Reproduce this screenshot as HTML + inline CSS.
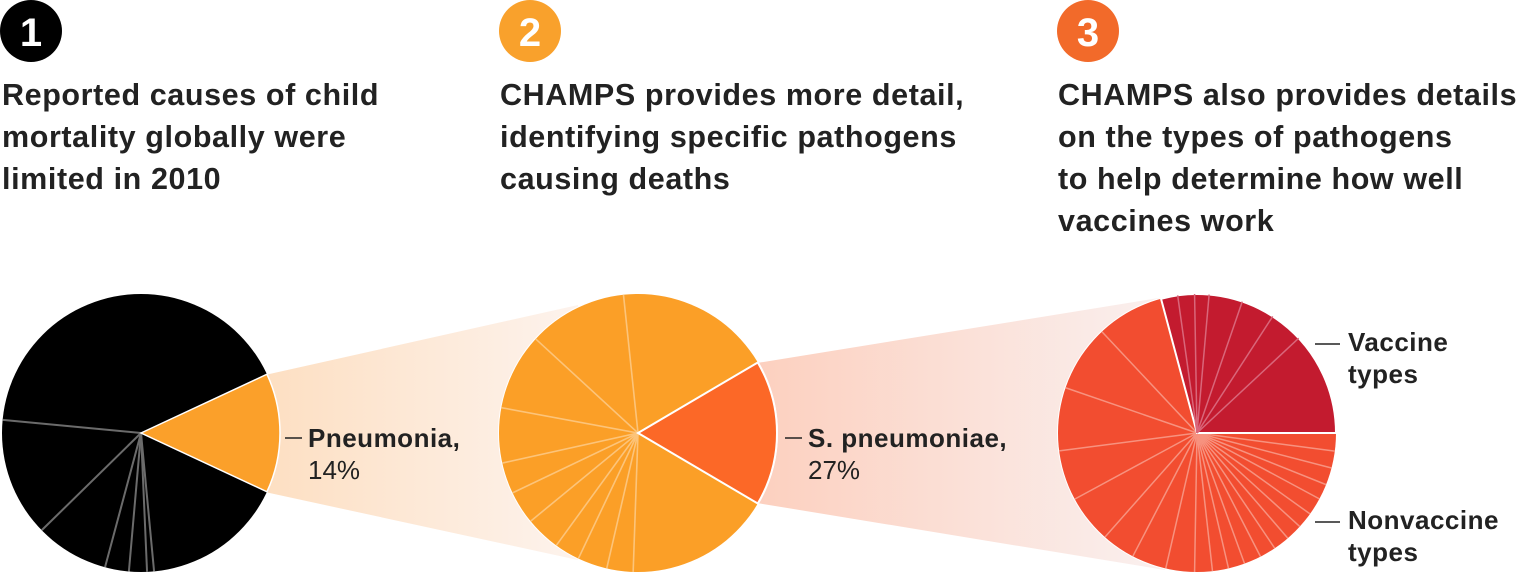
<!DOCTYPE html>
<html><head><meta charset="utf-8">
<style>
html,body{margin:0;padding:0;background:#fff;width:1520px;height:584px;overflow:hidden}
svg{display:block}
.h{font-family:"Liberation Sans",sans-serif;font-weight:bold;font-size:30.5px;letter-spacing:0.6px;fill:#222}
.n{font-family:"Liberation Sans",sans-serif;font-weight:bold;font-size:40px;fill:#fff}
.lb{font-family:"Liberation Sans",sans-serif;font-weight:bold;font-size:26px;letter-spacing:0.5px;fill:#222}
.lr{font-family:"Liberation Sans",sans-serif;font-size:26px;fill:#222}
</style></head><body>
<svg id="s" width="1520" height="584" viewBox="0 0 1520 584" xmlns="http://www.w3.org/2000/svg">
<defs>
<linearGradient id="g1" x1="0" x2="1" y1="0" y2="0"><stop offset="0" stop-color="#fddfc2"/><stop offset="1" stop-color="#fdf3ed"/></linearGradient>
<linearGradient id="g2" x1="0" x2="1" y1="0" y2="0"><stop offset="0" stop-color="#fcd0bf"/><stop offset="1" stop-color="#faf0ef"/></linearGradient>
</defs>
<polygon points="265,375 578,305 578,560 265,492" fill="url(#g1)"/>
<polygon points="757,363 1165,297 1165,570 757,503" fill="url(#g2)"/>
<g id="pies"></g>
<circle cx="31" cy="31" r="31" fill="#000"/><text class="n" x="31" y="46" text-anchor="middle">1</text>
<circle cx="530" cy="31" r="31" fill="#f9a12c"/><text class="n" x="530" y="46" text-anchor="middle">2</text>
<circle cx="1088" cy="31" r="31" fill="#f26a2a"/><text class="n" x="1088" y="46" text-anchor="middle">3</text>
<text class="h" x="2" y="105">Reported causes of child</text>
<text class="h" x="2" y="147">mortality globally were</text>
<text class="h" x="2" y="189">limited in 2010</text>
<text class="h" x="500" y="105">CHAMPS provides more detail,</text>
<text class="h" x="500" y="147">identifying specific pathogens</text>
<text class="h" x="500" y="189">causing deaths</text>
<text class="h" x="1058" y="105">CHAMPS also provides details</text>
<text class="h" x="1058" y="147">on the types of pathogens</text>
<text class="h" x="1058" y="189">to help determine how well</text>
<text class="h" x="1058" y="231">vaccines work</text>
<line x1="285" y1="438" x2="302" y2="438" stroke="#222" stroke-width="1.5"/>
<text class="lb" x="308" y="447">Pneumonia,</text>
<text class="lr" x="308" y="479">14%</text>
<line x1="785" y1="438" x2="802" y2="438" stroke="#222" stroke-width="1.5"/>
<text class="lb" x="808" y="447">S. pneumoniae,</text>
<text class="lr" x="808" y="479">27%</text>
<line x1="1315" y1="344" x2="1340" y2="344" stroke="#222" stroke-width="1.5"/>
<text class="lb" x="1348" y="351">Vaccine</text>
<text class="lb" x="1348" y="383">types</text>
<line x1="1315" y1="522" x2="1340" y2="522" stroke="#222" stroke-width="1.5"/>
<text class="lb" x="1348" y="529">Nonvaccine</text>
<text class="lb" x="1348" y="561">types</text>
</svg>
<script>
var NS="http://www.w3.org/2000/svg",G=document.getElementById("pies");
function el(t,a){var e=document.createElementNS(NS,t);for(var k in a)e.setAttribute(k,a[k]);G.appendChild(e);return e;}
function pt(cx,cy,r,a){a=a*Math.PI/180;return [cx+r*Math.cos(a),cy+r*Math.sin(a)];}
function wedge(cx,cy,r,a0,a1,fill,stroke,sw){var p0=pt(cx,cy,r,a0),p1=pt(cx,cy,r,a1);var large=(a1-a0)>180?1:0;
el("path",{d:"M"+cx+","+cy+"L"+p0[0]+","+p0[1]+"A"+r+","+r+" 0 "+large+" 1 "+p1[0]+","+p1[1]+"Z",fill:fill,stroke:stroke||"none","stroke-width":sw||0});}
function spokes(cx,cy,r,arr,col,w){arr.forEach(function(a){var p=pt(cx,cy,r,a);el("line",{x1:cx,y1:cy,x2:p[0],y2:p[1],stroke:col,"stroke-width":w});});}
el("circle",{cx:141,cy:433,r:139,fill:"#000"});
spokes(141,433,139,[185.4,135.6,105,95,87.5,84.6],"#6b6b6b",2);
wedge(141,433,139,-25,25,"#fba02a","#fff",1.5);
el("circle",{cx:638,cy:433,r:140,fill:"#fff"});
el("circle",{cx:638,cy:433,r:139,fill:"#fb9f27"});
spokes(638,433,139,[264,222.6,190.5,167.5,154.5,140.6,126,115.4,103,92],"#fcc47a",1.6);
wedge(638,433,139,-30.5,30.5,"#fc6827","#fff",2);
el("circle",{cx:1197,cy:433,r:140,fill:"#fff"});
el("circle",{cx:1197,cy:433,r:139,fill:"#f24d30"});
spokes(1197,433,139,[226.8,199,172.6,151.6,131.5,117.5,103,91,83.6,76.9,70,62.8,56,49.2,42.3,35.6,28.3,21.8,14.6,7.5],"#f7927f",1.5);
wedge(1197,433,139,-105,0,"#c31b2f","#fff",2);
spokes(1197,433,139,[-98,-91,-85,-71,-57,-43],"#d9667a",1.5);
</script>
</body></html>
